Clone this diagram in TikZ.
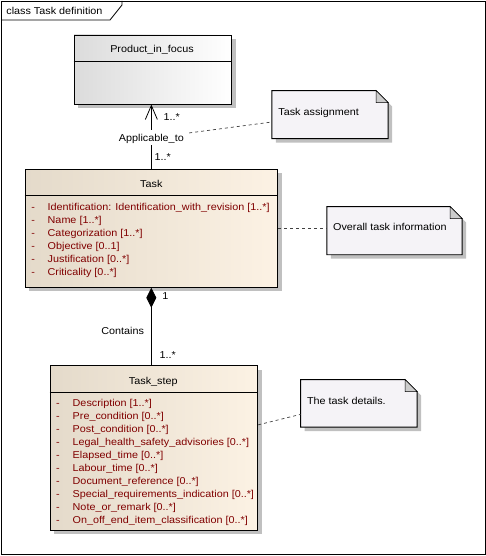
\documentclass[tikz,border=0pt]{standalone}
\usepackage{fontspec}
\setmainfont{Liberation Sans}[FakeStretch=1.08]
\usetikzlibrary{arrows.meta,shadows}

\definecolor{classleft}{RGB}{228,218,202}
\definecolor{classright}{RGB}{252,242,228}
\definecolor{noteface}{RGB}{245,243,247}
\definecolor{foldgray}{RGB}{204,204,204}
\definecolor{attrred}{RGB}{128,0,0}
\definecolor{shadowgray}{RGB}{192,192,192}

\tikzset{
  umlshadow/.style={drop shadow={shadow xshift=4pt, shadow yshift=-4pt, fill=shadowgray, opacity=1}},
  classbox/.style={draw=black, line width=0.9pt, inner sep=0pt, umlshadow, left color=classleft, right color=classright},
  plainbox/.style={classbox, left color=black!14, right color=white},
  notebox/.style={inner sep=0pt},
  notepaper/.style={draw=black, line width=0.9pt, fill=noteface, umlshadow},
  notefold/.style={draw=black, line width=0.6pt, fill=foldgray},
  txt/.style={inner sep=0pt, text height=7pt, text depth=0pt, font=\fontsize{10}{12}\selectfont},
  attr/.style={txt, anchor=west, text=attrred},
  mult/.style={txt, anchor=west},
  notelink/.style={draw=black!75, line width=0.7pt, dash pattern=on 3pt off 3pt},
}

\begin{document}
\begin{tikzpicture}[x=1pt, y=-1pt, line width=0.8pt]
		\useasboundingbox (0,0) rectangle (486,556);

		% рамка диаграммы
		\draw (1,1) rectangle (485,554);
		\draw (1,20) -- (110,20) -- (122,5) -- (122,1);
		\node [txt, anchor=west] (frametitle) at (6,11) {class Task definition};

		% класс Product_in_focus
		\node [plainbox, minimum width=157.5pt, minimum height=69pt] (product) at (152.75,69.5) {};
		\draw ([yshift=-27pt]product.north west) -- ([yshift=-27pt]product.north east);
		\node [txt] (producttitle) at (152,49) {Product\_in\_focus};

		% класс Task
		\node [classbox, minimum width=252.7pt, minimum height=118pt] (task) at (151.35,228.3) {};
		\draw ([yshift=-26.7pt]task.north west) -- ([yshift=-26.7pt]task.north east);
		\node [txt] (tasktitle) at (151.3,184.3) {Task};
		\node [attr] (taskattr1) at (31,206.7) {\makebox[16.3pt][l]{-}Identification: Identification\_with\_revision [1..*]};
		\node [attr] (taskattr2) at (31,219.7) {\makebox[16.3pt][l]{-}Name [1..*]};
		\node [attr] (taskattr3) at (31,232.7) {\makebox[16.3pt][l]{-}Categorization [1..*]};
		\node [attr] (taskattr4) at (31,245.7) {\makebox[16.3pt][l]{-}Objective [0..1]};
		\node [attr] (taskattr5) at (31,258.7) {\makebox[16.3pt][l]{-}Justification [0..*]};
		\node [attr] (taskattr6) at (31,271.7) {\makebox[16.3pt][l]{-}Criticality [0..*]};

		% класс Task_step
		\node [classbox, minimum width=207.7pt, minimum height=164.3pt] (step) at (153.85,447.85) {};
		\draw ([yshift=-27pt]step.north west) -- ([yshift=-27pt]step.north east);
		\node [txt] (steptitle) at (153.3,381) {Task\_step};
		\node [attr] (stepattr1) at (55.7,402.7) {\makebox[16.6pt][l]{-}Description [1..*]};
		\node [attr] (stepattr2) at (55.7,415.7) {\makebox[16.6pt][l]{-}Pre\_condition [0..*]};
		\node [attr] (stepattr3) at (55.7,428.7) {\makebox[16.6pt][l]{-}Post\_condition [0..*]};
		\node [attr] (stepattr4) at (55.7,441.7) {\makebox[16.6pt][l]{-}Legal\_health\_safety\_advisories [0..*]};
		\node [attr] (stepattr5) at (55.7,454.7) {\makebox[16.6pt][l]{-}Elapsed\_time [0..*]};
		\node [attr] (stepattr6) at (55.7,467.7) {\makebox[16.6pt][l]{-}Labour\_time [0..*]};
		\node [attr] (stepattr7) at (55.7,480.7) {\makebox[16.6pt][l]{-}Document\_reference [0..*]};
		\node [attr] (stepattr8) at (55.7,493.7) {\makebox[16.6pt][l]{-}Special\_requirements\_indication [0..*]};
		\node [attr] (stepattr9) at (55.7,506.7) {\makebox[16.6pt][l]{-}Note\_or\_remark [0..*]};
		\node [attr] (stepattr10) at (55.7,519.7) {\makebox[16.6pt][l]{-}On\_off\_end\_item\_classification [0..*]};

		% примечание Task assignment
		\node [notebox, minimum width=115.4pt, minimum height=47.3pt] (assign) at (330,114.65) {};
		\path [notepaper] (assign.north west) -- ([xshift=-12pt]assign.north east) -- ([yshift=-12pt]assign.north east) -- (assign.south east) -- (assign.south west) -- cycle;
		\path [notefold] ([xshift=-12pt]assign.north east) -- ([yshift=-12pt]assign.north east) -- ([xshift=-12pt,yshift=-12pt]assign.north east) -- cycle;
		\node [txt, anchor=west] (assigntext) at (278,111.7) {Task assignment};

		% примечание Overall task information
		\node [notebox, minimum width=134.4pt, minimum height=47.3pt] (overall) at (394.5,230.65) {};
		\path [notepaper] (overall.north west) -- ([xshift=-12pt]overall.north east) -- ([yshift=-12pt]overall.north east) -- (overall.south east) -- (overall.south west) -- cycle;
		\path [notefold] ([xshift=-12pt]overall.north east) -- ([yshift=-12pt]overall.north east) -- ([xshift=-12pt,yshift=-12pt]overall.north east) -- cycle;
		\node [txt, anchor=west] (overalltext) at (332.7,227.3) {Overall task information};

		% примечание The task details.
		\node [notebox, minimum width=115.7pt, minimum height=46.7pt] (details) at (358.85,403.35) {};
		\path [notepaper] (details.north west) -- ([xshift=-12pt]details.north east) -- ([yshift=-12pt]details.north east) -- (details.south east) -- (details.south west) -- cycle;
		\path [notefold] ([xshift=-12pt]details.north east) -- ([yshift=-12pt]details.north east) -- ([xshift=-12pt,yshift=-12pt]details.north east) -- cycle;
		\node [txt, anchor=west] (detailstext) at (306.7,400.7) {The task details.};

		% ассоциация Applicable_to
		\draw [-{Straight Barb[length=14pt, width=12pt]}] (task.north) -- node [txt, pos=0.48, fill=white, inner xsep=2pt, inner ysep=4pt] (applabel) {Applicable\_to} (task.north |- product.south);
		\node [mult] (prodmult) at (163.3,116.7) {1..*};
		\node [mult] (taskmult) at (154.3,156.7) {1..*};

		% композиция Contains
		\draw [{Diamond[length=20pt, width=10pt]}-] (task.south) -- node [txt, pos=0.56, left=7pt] (containslabel) {Contains} (task.south |- step.north);
		\node [mult] (wholemult) at (162,296) {1};
		\node [mult] (partmult) at (159.3,355) {1..*};

		% связи с примечаниями
		\draw [notelink] ([xshift=3pt, yshift=5pt]applabel.east) -- ([yshift=-7.35pt]assign.west);
		\draw [notelink] (task.east) -- (task.east -| overall.west);
		\draw [notelink] ([yshift=23pt]step.east) -- ([yshift=-11pt]details.west);
	\end{tikzpicture}
\end{document}
